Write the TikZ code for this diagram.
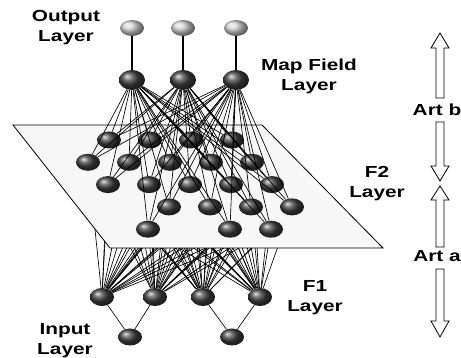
\documentclass[tikz,border=0pt]{standalone}
\usepackage{fontspec}
\newfontfamily\labelfont{Liberation Sans}[FakeStretch=1.3]
\usetikzlibrary{shapes.geometric}
\pgfdeclarelayer{wires}
\pgfdeclarelayer{sheet}
\pgfsetlayers{wires,sheet,main}
\tikzset{
  neuron/.style={ellipse, minimum width=24, minimum height=17, inner sep=0, ball color=black!75},
  mapneuron/.style={neuron, minimum width=26, minimum height=20},
  outneuron/.style={ellipse, minimum width=24, minimum height=16, inner sep=0, ball color=gray!35},
  wire/.style={line width=0.65},
  stem/.style={line width=1.2},
  sheet/.style={draw, fill=black!3, line width=0.8},
  artarrow/.style={draw, fill=white, line width=0.8},
  lbl/.style={align=center, inner sep=0, font=\labelfont\bfseries\fontsize{16}{20}\selectfont}
}
\newcommand{\ftwolist}{1/0, 2/0, 3/0, 4/0, 0/1, 1/1, 2/1, 3/1, 4/1, 0/2, 1/2, 2/2, 3/2, 4/2, 1/3, 2/3, 3/3, 4/3, 0/4, 2/4, 3/4}

\begin{document}
\begin{tikzpicture}[x=1pt, y=-1pt]
\useasboundingbox (0, 0) rectangle (461, 358);

% F2 layer
\foreach \i/\r in \ftwolist
  \node[neuron] (f2-\i-\r) at ({68 + 41*\i + 20*\r}, {140 + 22.3*\r}) {};

% Map field and output
\node[mapneuron] (mf-1) at (132, 80) {};
\node[mapneuron] (mf-2) at (183, 80) {};
\node[mapneuron] (mf-3) at (236, 80) {};
\node[outneuron] (out-1) at (132, 28) {};
\node[outneuron] (out-2) at (183, 28) {};
\node[outneuron] (out-3) at (236, 28) {};

% F1 and input
\node[neuron, minimum height=18] (f1-1) at (102, 297) {};
\node[neuron, minimum height=18] (f1-2) at (155, 297) {};
\node[neuron, minimum height=18] (f1-3) at (203, 297) {};
\node[neuron, minimum height=18] (f1-4) at (260, 297) {};
\node[neuron] (in-1) at (130, 337) {};
\node[neuron] (in-2) at (232, 337) {};

% Plane
\begin{pgfonlayer}{sheet}
\draw[sheet] (13, 125) -- (262, 125) -- (383, 248) -- (110, 248) -- cycle;
\end{pgfonlayer}

% Links
\begin{pgfonlayer}{wires}
\foreach \i/\r in \ftwolist
  \foreach \k in {1, 2, 3, 4}
    \draw[wire] (f1-\k) -- (f2-\i-\r);
\end{pgfonlayer}
\foreach \i/\r in \ftwolist
  \foreach \m in {1, 2, 3}
    \draw[wire] (f2-\i-\r) -- (mf-\m);
\foreach \m in {1, 2, 3}
  \draw[stem] (mf-\m) -- (out-\m);
\draw[wire] (in-1) -- (f1-1);
\draw[wire] (in-1) -- (f1-2);
\draw[wire] (in-2) -- (f1-3);
\draw[wire] (in-2) -- (f1-4);

% Labels
\node[lbl] (outlbl) at (66, 28) {Output\\Layer};
\node[lbl] (mflbl) at (309, 76) {Map Field\\Layer};
\node[lbl] (f2lbl) at (377, 184) {F2\\Layer};
\node[lbl] (f1lbl) at (315, 298) {F1\\Layer};
\node[lbl] (inlbl) at (65, 341) {Input\\Layer};

% Art arrows
\draw[artarrow, shift={(440, 0)}] (-4, 98) -- (-4, 48) -- (-9, 48) -- (0, 33) -- (9, 48) -- (4, 48) -- (4, 98) -- cycle;
\node[lbl] (artb) at (437, 110) {Art b};
\draw[artarrow, shift={(440, 0)}] (-4, 122) -- (-4, 166) -- (-9, 166) -- (0, 181) -- (9, 166) -- (4, 166) -- (4, 122) -- cycle;
\draw[artarrow, shift={(440, 0)}] (-4, 247) -- (-4, 200) -- (-9, 200) -- (0, 186) -- (9, 200) -- (4, 200) -- (4, 247) -- cycle;
\node[lbl] (arta) at (437, 256) {Art a};
\draw[artarrow, shift={(440, 0)}] (-4, 269) -- (-4, 321) -- (-9, 321) -- (0, 337) -- (9, 321) -- (4, 321) -- (4, 269) -- cycle;

\end{tikzpicture}
\end{document}
